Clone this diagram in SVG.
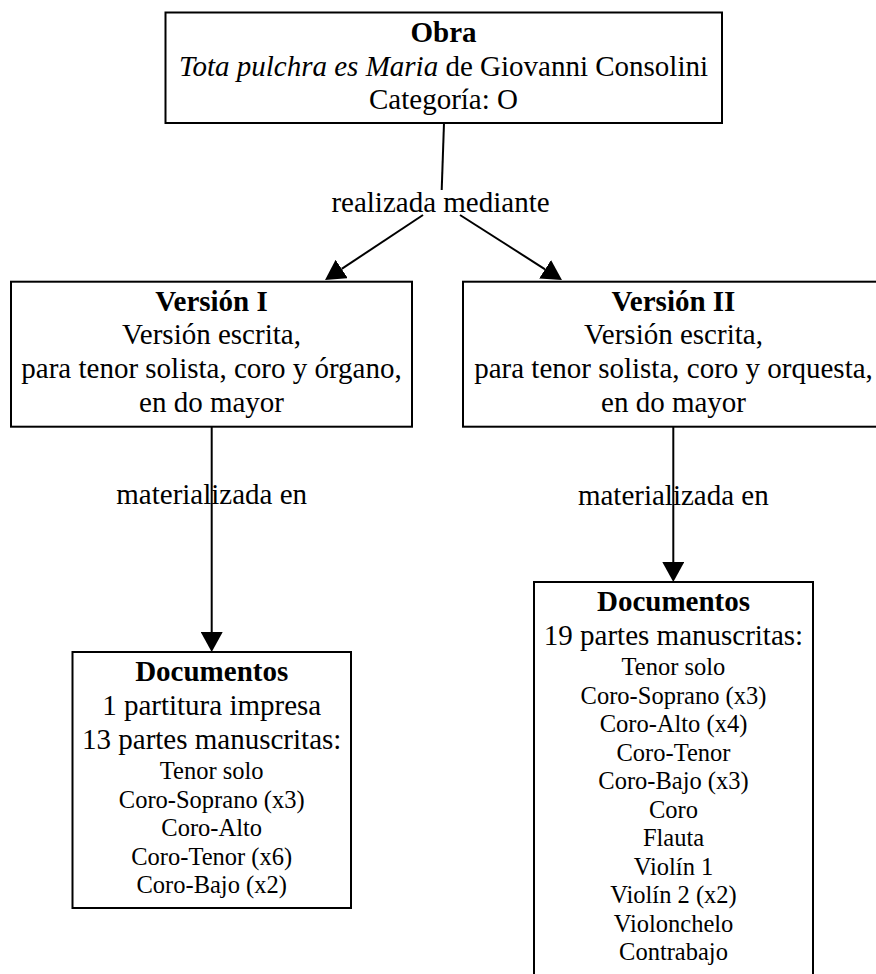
<svg xmlns="http://www.w3.org/2000/svg" width="876" height="974" viewBox="0 0 876 974">
  <style>
    text { font-family: "Liberation Serif", "Times New Roman", serif; fill: #000; text-anchor: middle; }
    .big { font-size: 29px; }
    .small { font-size: 24.5px; }
    .b { font-weight: bold; }
    .box { fill: #fff; stroke: #000; stroke-width: 2; }
    .edge { fill: none; stroke: #000; stroke-width: 2; }
  </style>
  <defs>
    <marker id="arrow" viewBox="0 0 20 22" refX="0" refY="11" markerWidth="20" markerHeight="22" markerUnits="userSpaceOnUse" orient="auto">
      <path d="M0,0 L20,11 L0,22 z" fill="#000"/>
    </marker>
  </defs>

  <rect width="876" height="974" fill="#fff"/>

  <!-- connectors -->
  <g id="connectors">
    <line class="edge" x1="444" y1="123" x2="441.7" y2="190"/>
    <text class="big" x="440.5" y="211.5">realizada mediante</text>
    <line class="edge" x1="423" y1="215" x2="341.7" y2="268.9" marker-end="url(#arrow)"/>
    <line class="edge" x1="460" y1="215" x2="545.1" y2="269.3" marker-end="url(#arrow)"/>

    <line class="edge" x1="211.7" y1="427" x2="211.7" y2="632" marker-end="url(#arrow)"/>
    <text class="big" x="211.7" y="503.5">materializada en</text>

    <line class="edge" x1="673.3" y1="427" x2="673.3" y2="562" marker-end="url(#arrow)"/>
    <text class="big" x="673.3" y="505">materializada en</text>
  </g>

  <!-- work -->
  <g id="obra">
    <rect class="box" x="165.5" y="12.5" width="556.5" height="110.5"/>
    <text class="big b" x="443.5" y="41.5">Obra</text>
    <text class="big" x="443.5" y="75.5"><tspan font-style="italic">Tota pulchra es Maria</tspan> de Giovanni Consolini</text>
    <text class="big" x="443.5" y="109">Categoría: O</text>
  </g>

  <!-- version I -->
  <g id="version-1">
    <rect class="box" x="11" y="281.7" width="401" height="145"/>
    <text class="big b" x="211.5" y="310.5">Versión I</text>
    <text class="big" x="211.5" y="344">Versión escrita,</text>
    <text class="big" x="211.5" y="377.7">para tenor solista, coro y órgano,</text>
    <text class="big" x="211.5" y="411.5">en do mayor</text>
  </g>

  <!-- version II -->
  <g id="version-2">
    <rect class="box" x="463" y="281.7" width="421" height="145"/>
    <text class="big b" x="673.5" y="310.5">Versión II</text>
    <text class="big" x="673.5" y="344">Versión escrita,</text>
    <text class="big" x="673.5" y="377.7">para tenor solista, coro y orquesta,</text>
    <text class="big" x="673.5" y="411.5">en do mayor</text>
  </g>

  <!-- documents of version I -->
  <g id="documentos-1">
    <rect class="box" x="72.5" y="652" width="278.5" height="256"/>
    <text class="big b" x="211.7" y="681">Documentos</text>
    <text class="big" x="211.7" y="715">1 partitura impresa</text>
    <text class="big" x="211.7" y="749">13 partes manuscritas:</text>
    <text class="small" x="211.7" y="779">Tenor solo</text>
    <text class="small" x="211.7" y="807.5">Coro-Soprano (x3)</text>
    <text class="small" x="211.7" y="836">Coro-Alto</text>
    <text class="small" x="211.7" y="864.5">Coro-Tenor (x6)</text>
    <text class="small" x="211.7" y="893">Coro-Bajo (x2)</text>
  </g>

  <!-- documents of version II -->
  <g id="documentos-2">
    <rect class="box" x="534" y="582" width="279" height="396"/>
    <text class="big b" x="673.5" y="611">Documentos</text>
    <text class="big" x="673.5" y="645">19 partes manuscritas:</text>
    <text class="small" x="673.5" y="675">Tenor solo</text>
    <text class="small" x="673.5" y="703.5">Coro-Soprano (x3)</text>
    <text class="small" x="673.5" y="732">Coro-Alto (x4)</text>
    <text class="small" x="673.5" y="760.5">Coro-Tenor</text>
    <text class="small" x="673.5" y="789">Coro-Bajo (x3)</text>
    <text class="small" x="673.5" y="817.5">Coro</text>
    <text class="small" x="673.5" y="846">Flauta</text>
    <text class="small" x="673.5" y="874.5">Violín 1</text>
    <text class="small" x="673.5" y="903">Violín 2 (x2)</text>
    <text class="small" x="673.5" y="931.5">Violonchelo</text>
    <text class="small" x="673.5" y="960">Contrabajo</text>
  </g>
</svg>
